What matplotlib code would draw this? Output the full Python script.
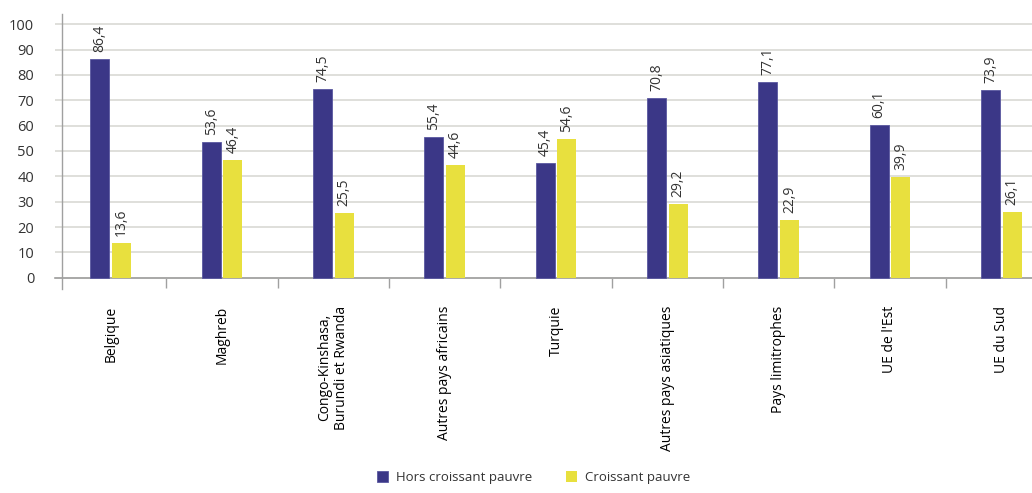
import numpy as np
import matplotlib.pyplot as plt

plt.rcParams['font.family'] = ['Open Sans', 'DejaVu Sans']

categories = ["Belgique", "Maghreb", "Congo-Kinshasa,\nBurundi et Rwanda",
              "Autres pays africains", "Turquie", "Autres pays asiatiques",
              "Pays limitrophes", "UE de l'Est", "UE du Sud"]
hors_croissant = [86.4, 53.6, 74.5, 55.4, 45.4, 70.8, 77.1, 60.1, 73.9]
croissant = [13.6, 46.4, 25.5, 44.6, 54.6, 29.2, 22.9, 39.9, 26.1]
series_names = ["Hors croissant pauvre", "Croissant pauvre"]

blue = "#3b3787"
yellow = "#e8e03e"
txt = "#333333"

fig = plt.figure(figsize=(10.32, 4.93), dpi=100)
# axes runs a bit past the right edge, as in the original
ax = fig.add_axes([55/1032, 204/493, 1002/1032, 275/493])

x = np.arange(len(categories))
w = 0.17
off = 0.098
b1 = ax.bar(x - off, hors_croissant, w, color=blue, edgecolor="#5a58a0", linewidth=0.6,
            label=series_names[0], zorder=3)
b2 = ax.bar(x + off, croissant, w, color=yellow, label=series_names[1], zorder=3)

for bars, vals in ((b1, hors_croissant), (b2, croissant)):
    for r, v in zip(bars, vals):
        ax.annotate(f"{v:.1f}".replace(".", ","), (r.get_x() + r.get_width()/2, v),
                    xytext=(0, 5), textcoords="offset points",
                    rotation=90, ha="center", va="bottom", fontsize=10, color=txt)

ax.set_xlim(-0.5, len(categories) - 0.5)
ax.set_ylim(-4.4, 104)
ax.set_yticks(np.arange(0, 101, 10))
ax.tick_params(axis="y", length=0, pad=20, labelsize=10.5, labelcolor=txt)
ax.grid(axis="y", color="#dcdcd8", linewidth=1.3, zorder=0)

# separator ticks between categories (none at the y axis itself)
ax.set_xticks(np.arange(1, len(categories) + 1) - 0.5)
ax.set_xticklabels([])
ax.set_xticks(x, minor=True)
ax.set_xticklabels(categories, minor=True)
ax.tick_params(axis="x", which="major", length=7, width=1, color="#a0a0a0")
ax.tick_params(axis="x", which="minor", length=0, pad=20, labelrotation=90)
for lab in ax.get_xticklabels(minor=True):
    lab.set_fontsize(9)
    lab.set_color(txt)
    lab.set_ha("center")
    lab.set_va("top")
    lab.set_multialignment("right")

for s in ("top", "right"):
    ax.spines[s].set_visible(False)
ax.spines["bottom"].set_position(("data", 0))
ax.spines["bottom"].set_color("#a0a0a0")
ax.spines["bottom"].set_linewidth(1.2)
ax.spines["left"].set_position(("axes", 7/1002))
ax.spines["left"].set_color("#a0a0a0")
ax.spines["left"].set_linewidth(1.0)

fig.legend(loc="lower center", bbox_to_anchor=(0.517, -0.005), ncol=2, frameon=False,
           fontsize=9.5, handlelength=0.9, handleheight=0.9, columnspacing=2.5,
           handletextpad=0.6, labelcolor=txt)

fig.savefig("out.png", dpi=100)
